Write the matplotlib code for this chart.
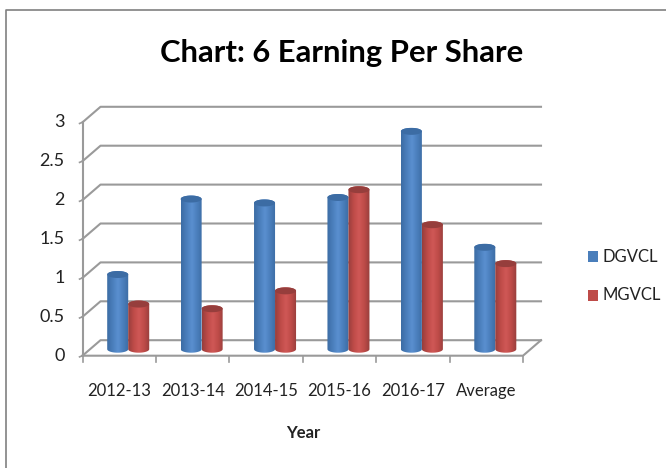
import numpy as np
import matplotlib
matplotlib.use("Agg")
import matplotlib.pyplot as plt
from matplotlib.patches import Rectangle, PathPatch
from matplotlib.path import Path

categories = ['2012-13', '2013-14', '2014-15', '2015-16', '2016-17', 'Average']
dgvcl = [0.96, 1.93, 1.88, 1.95, 2.80, 1.31]
mgvcl = [0.58, 0.52, 0.75, 2.05, 1.60, 1.10]
y_ticks = [0, 0.5, 1, 1.5, 2, 2.5, 3]
y_labels = ['0', '0.5', '1', '1.5', '2', '2.5', '3']

W, H = 666, 468
plt.rcParams['font.family'] = ['Lato', 'DejaVu Sans']

fig = plt.figure(figsize=(W / 100, H / 100), dpi=100)
ax = fig.add_axes([82.5 / W, 1 - 355.7 / H, 440.5 / W, 233.4 / H])
ax.set_xlim(0, 6)
ax.set_ylim(0, 3)
ax.axis('off')

# depth of the fake 3d box, in data units
dx = 18 / 73.4
dy = 15.5 / 77.8
grid = '#9a9a9a'

for t in y_ticks:
    ax.plot([0, dx, 6 + dx], [t, t + dy, t + dy], color=grid, lw=1.5, clip_on=False, zorder=1)
    ax.plot([-0.04, 0], [t - 0.015, t], color=grid, lw=1.2, clip_on=False, zorder=1)
ax.plot([0, 0], [0, 3], color=grid, lw=1.5, clip_on=False, zorder=1)
ax.plot([0, 6, 6 + dx], [0, 0, dy], color=grid, lw=1.5, clip_on=False, zorder=1)
for i in range(7):
    ax.plot([i, i], [0, -0.08], color=grid, lw=1.2, clip_on=False, zorder=1)


def cylinder(x0, x1, base, top, dark, mid, light):
    ry = 0.045
    a = np.linspace(np.pi, 2 * np.pi, 30)
    xc = (x0 + x1) / 2
    rx = (x1 - x0) / 2
    xs = np.concatenate([xc + rx * np.cos(a), xc + rx * np.cos(a[::-1])])
    ys = np.concatenate([base + ry * np.sin(a), top - ry * np.sin(a[::-1])])
    body = PathPatch(Path(np.column_stack([xs, ys])), fc='none', ec='none', zorder=3)
    ax.add_patch(body)
    cmap = matplotlib.colors.LinearSegmentedColormap.from_list('c', [dark, mid, light, mid, dark])
    im = ax.imshow(np.linspace(0, 1, 64).reshape(1, -1), extent=[x0, x1, base - ry, top + ry],
                   cmap=cmap, aspect='auto', zorder=3)
    im.set_clip_path(body)
    b = np.linspace(0, 2 * np.pi, 40)
    cap = np.column_stack([xc + rx * np.cos(b), top + ry * np.sin(b)])
    ax.fill(cap[:, 0], cap[:, 1], color=dark, lw=0, zorder=3.1)


bw = 21 / 73.4
off_x = 9 / 73.4
base = 6.5 / 77.8
for i in range(len(categories)):
    c = i + 0.5 + off_x
    cylinder(c - bw, c, base, base + dgvcl[i], '#3c6ca4', '#4a7ebb', '#5a8fd0')
    cylinder(c, c + bw, base, base + mgvcl[i], '#963e3c', '#be4b48', '#cf5856')
ax.set_xlim(0, 6)
ax.set_ylim(0, 3)

for t, lab in zip(y_ticks, y_labels):
    ax.annotate(lab, (0, t), xytext=(-18, 0), textcoords='offset pixels', ha='right', va='center',
                fontsize=13, color='#222222', annotation_clip=False)
for i, lab in enumerate(categories):
    ax.annotate(lab, (i + 0.5, 0), xytext=(0, -35), textcoords='offset pixels', ha='center', va='center',
                fontsize=12, color='#222222', annotation_clip=False)

fig.text(342 / W, 1 - 53 / H, 'Chart: 6 Earning Per Share', ha='center', va='center',
         fontsize=22.3, fontweight='bold', color='black')
fig.text(303 / W, 1 - 433 / H, 'Year', ha='center', va='center', fontsize=12, fontweight='bold', color='#222222')

# legend
fig.patches.append(Rectangle((588 / W, 1 - 262 / H), 10 / W, 11 / H, transform=fig.transFigure, fc='#4a7ebb', ec='none'))
fig.patches.append(Rectangle((588 / W, 1 - 301 / H), 10 / W, 11 / H, transform=fig.transFigure, fc='#be4b48', ec='none'))
fig.text(603 / W, 1 - 257 / H, 'DGVCL', ha='left', va='center', fontsize=12, color='#222222')
fig.text(603 / W, 1 - 295 / H, 'MGVCL', ha='left', va='center', fontsize=12, color='#222222')

# outer frame
fig.add_artist(plt.Line2D([6 / W, 6 / W, 1], [0, 1 - 10 / H, 1 - 10 / H], color='#808080', lw=1.2))

fig.savefig('out.png', dpi=100)
